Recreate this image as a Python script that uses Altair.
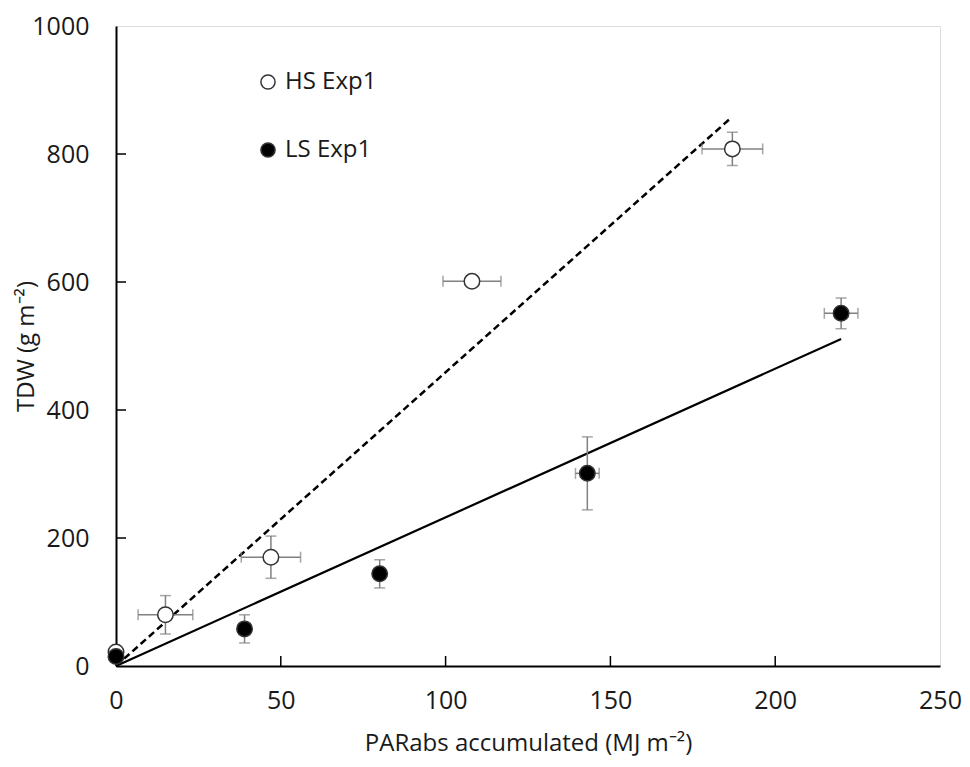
import altair as alt
import pandas as pd

# ---- data ----
hs_x = [0, 15, 47, 108, 187]
hs_y = [22, 80, 170, 601, 808]
hs_xerr = [0, 8.3, 9, 8.8, 9.2]
hs_yerr = [0, 30, 33, 0, 26]

ls_x = [0, 39, 80, 143, 220]
ls_y = [15, 58, 144, 301, 551]
ls_xerr = [0, 0, 0, 3.6, 5.1]
ls_yerr = [0, 22, 22, 57, 24]

hs_line_x = [0, 186.5]
hs_line_y = [0, 856]
ls_line_x = [0, 220]
ls_line_y = [0, 511]

series_names = ["HS Exp1", "LS Exp1"]
x_ticks = [0, 50, 100, 150, 200, 250]
y_ticks = [0, 200, 400, 600, 800, 1000]

FONT = "Open Sans"

rows = []
for name, xs, ys, xe, ye in [
    (series_names[0], hs_x, hs_y, hs_xerr, hs_yerr),
    (series_names[1], ls_x, ls_y, ls_xerr, ls_yerr),
]:
    for x, y, ex, ey in zip(xs, ys, xe, ye):
        rows.append(dict(series=name, x=x, y=y, xlo=x - ex, xhi=x + ex,
                         ylo=y - ey, yhi=y + ey, ex=ex, ey=ey))
pts = pd.DataFrame(rows)

xscale = alt.Scale(domain=[0, 250], nice=False, zero=True)
yscale = alt.Scale(domain=[0, 1000], nice=False, zero=True)

X = alt.X("x:Q", scale=xscale,
          axis=alt.Axis(values=x_ticks, title="PARabs accumulated (MJ m\u207b\u00b2)",
                        format="d", ticks=False, labelPadding=22, grid=False, domainColor="black",
                        domainWidth=2, labelFontSize=25, titleFontSize=24, labelFlush=False,
                        labelFont=FONT, titleFont=FONT, labelColor="#1a1a1a",
                        titleColor="#1a1a1a", titleFontWeight="normal", titlePadding=18))
Y = alt.Y("y:Q", scale=yscale,
          axis=alt.Axis(values=y_ticks, title="TDW (g m\u207b\u00b2)",
                        format="d", ticks=False, labelPadding=27, grid=False, domainColor="black",
                        domainWidth=2, labelFontSize=25, titleFontSize=24, labelFlush=False,
                        labelFont=FONT, titleFont=FONT, labelColor="#1a1a1a",
                        titleColor="#1a1a1a", titleFontWeight="normal", titlePadding=-7))

base = alt.Chart(pts)
ERR = "#808080"

xerr_df = pts[pts.ex > 0]
yerr_df = pts[pts.ey > 0]

hbar = alt.Chart(xerr_df).mark_rule(color=ERR, strokeWidth=1.5).encode(
    x=alt.X("xlo:Q", scale=xscale), x2="xhi:Q", y=alt.Y("y:Q", scale=yscale))
hcap_l = alt.Chart(xerr_df).mark_tick(color=ERR, orient="vertical", size=11, thickness=1.5).encode(
    x=alt.X("xlo:Q", scale=xscale), y=alt.Y("y:Q", scale=yscale))
hcap_r = alt.Chart(xerr_df).mark_tick(color=ERR, orient="vertical", size=11, thickness=1.5).encode(
    x=alt.X("xhi:Q", scale=xscale), y=alt.Y("y:Q", scale=yscale))
vbar = alt.Chart(yerr_df).mark_rule(color=ERR, strokeWidth=1.5).encode(
    x=alt.X("x:Q", scale=xscale), y=alt.Y("ylo:Q", scale=yscale), y2="yhi:Q")
vcap_b = alt.Chart(yerr_df).mark_tick(color=ERR, orient="horizontal", size=11, thickness=1.5).encode(
    x=alt.X("x:Q", scale=xscale), y=alt.Y("ylo:Q", scale=yscale))
vcap_t = alt.Chart(yerr_df).mark_tick(color=ERR, orient="horizontal", size=11, thickness=1.5).encode(
    x=alt.X("x:Q", scale=xscale), y=alt.Y("yhi:Q", scale=yscale))

lines_df = pd.DataFrame(
    [dict(series=series_names[0], x=a, y=b, o=i) for i, (a, b) in enumerate(zip(hs_line_x, hs_line_y))]
    + [dict(series=series_names[1], x=a, y=b, o=i) for i, (a, b) in enumerate(zip(ls_line_x, ls_line_y))]
)
hs_line = alt.Chart(lines_df[lines_df.series == series_names[0]]).mark_line(
    color="black", strokeWidth=2.5, strokeDash=[7, 4]).encode(x=X, y=Y, order="o:Q")
ls_line = alt.Chart(lines_df[lines_df.series == series_names[1]]).mark_line(
    color="black", strokeWidth=2.2).encode(x=alt.X("x:Q", scale=xscale), y=alt.Y("y:Q", scale=yscale), order="o:Q")

points = base.mark_point(filled=True, size=240, stroke="#333", strokeWidth=1.5, opacity=1).encode(
    x=alt.X("x:Q", scale=xscale), y=alt.Y("y:Q", scale=yscale),
    fill=alt.Fill("series:N",
                  scale=alt.Scale(domain=series_names, range=["white", "black"]),
                  legend=alt.Legend(title=None, orient="none", legendX=140, legendY=44,
                                    padding=0, rowPadding=44, symbolSize=200,
                                    symbolStrokeColor="#333", symbolStrokeWidth=1.5,
                                    symbolType="circle", labelFontSize=24, labelFont=FONT,
                                    labelColor="#1a1a1a", labelOffset=5)),
)

# inward tick marks
ytick_df = pd.DataFrame({"v": y_ticks[1:-1]})
xtick_df = pd.DataFrame({"v": x_ticks[1:-1]})
yticks = alt.Chart(ytick_df).mark_rule(color="black", strokeWidth=1.5).encode(
    y=alt.Y("v:Q", scale=yscale), x=alt.value(0), x2=alt.value(10))
xticks = alt.Chart(xtick_df).mark_rule(color="black", strokeWidth=1.5).encode(
    x=alt.X("v:Q", scale=xscale), y=alt.value(640), y2=alt.value(630))

chart = alt.layer(
    hs_line, ls_line, hbar, hcap_l, hcap_r, vbar, vcap_b, vcap_t, points, yticks, xticks
).properties(
    width=824, height=640,
    padding={"left": 108, "top": 18, "right": 22, "bottom": 90},
    autosize=alt.AutoSizeParams(type="none"),
).configure_view(
    stroke="#555", strokeWidth=1.5
).configure(background="white")

chart.save("out.html", embed_options={"renderer": "svg", "actions": False})
